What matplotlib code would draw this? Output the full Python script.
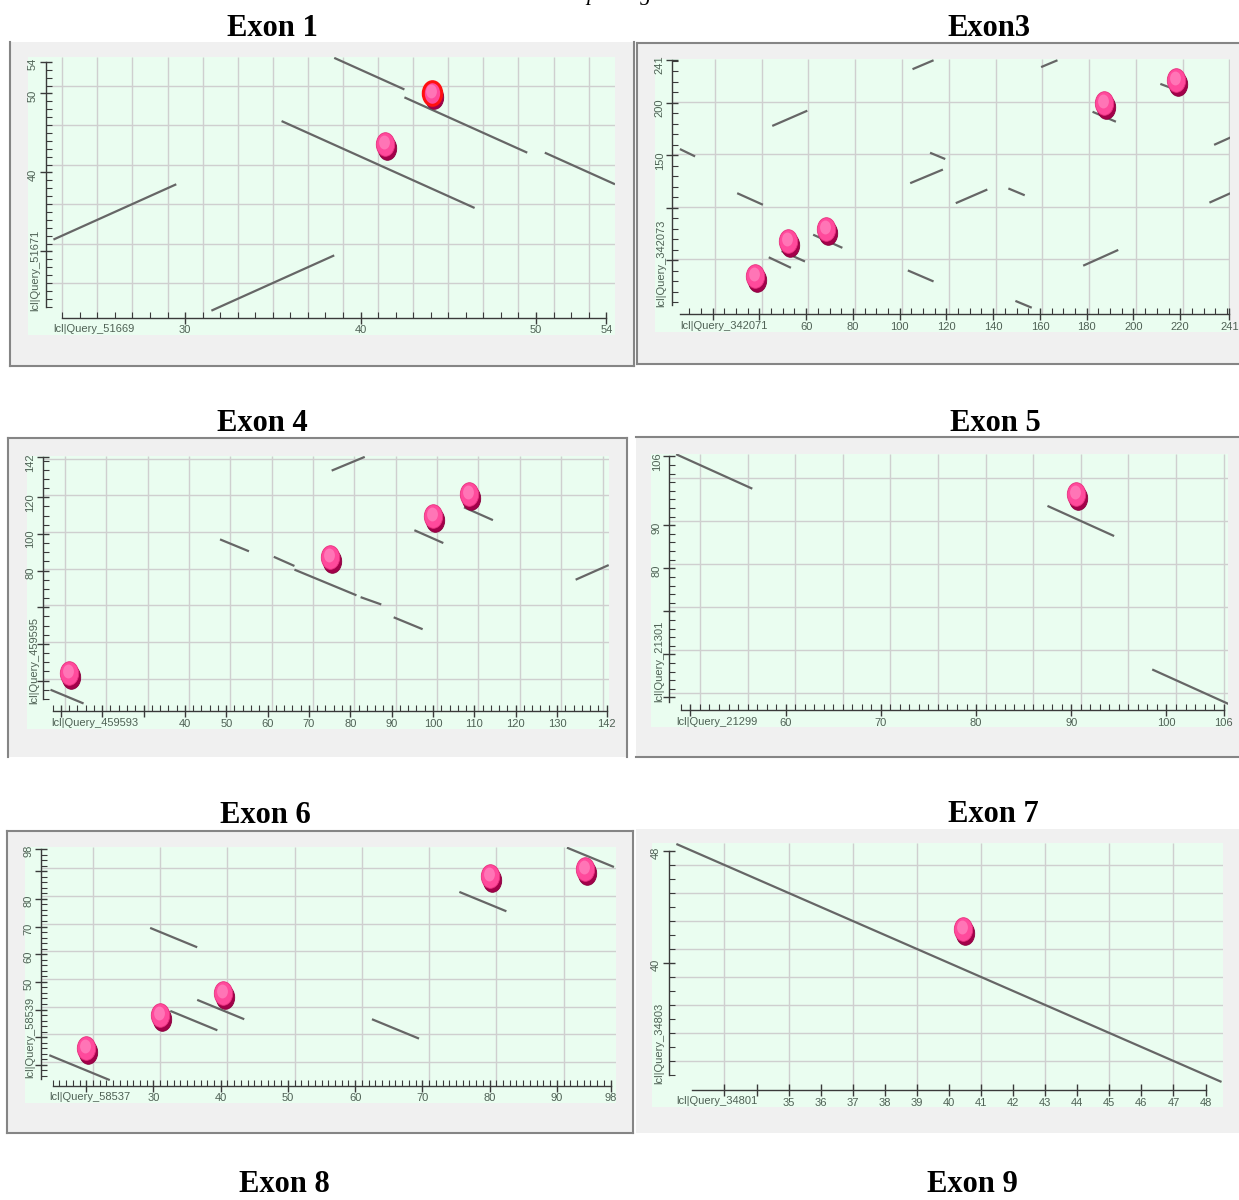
import matplotlib
matplotlib.use('Agg')
import matplotlib.pyplot as plt
import numpy as np
from matplotlib.path import Path
from matplotlib.transforms import Affine2D, offset_copy
from matplotlib.patches import Rectangle
from matplotlib.lines import Line2D

plt.rcParams['font.family'] = ['Liberation Sans', 'DejaVu Sans']

W, H = 1239, 1200

# ---------------- data ----------------
# segments are (x0, y0, x1, y1) in sequence positions
exon1_names = ("lcl|Query_51669", "lcl|Query_51671")
exon1_segments = [(22.5, 31.5, 29.5, 38.5), (31.5, 22.5, 38.5, 29.5),
                  (35.5, 46.5, 46.5, 35.5), (38.5, 54.5, 42.5, 50.5),
                  (42.5, 49.5, 49.5, 42.5), (50.5, 42.5, 54.5, 38.5)]
exon1_hits_x = [41.4, 44.1]
exon1_hits_y = [43.6, 50.1]
exon1_selected = [False, True]
exon1_xticks = [30, 40, 50, 54]
exon1_xticklabels = ['30', '40', '50', '54']
exon1_yticks = [30, 40, 50, 54]
exon1_yticklabels = ['', '40', '50', '54']

exon3_names = ("lcl|Query_342071", "lcl|Query_342073")
exon3_segments = [(6, 156, 12.5, 149), (30.5, 114, 41.5, 103),
                  (45.5, 178, 60.5, 192.5), (44, 53, 53.5, 43),
                  (49.5, 59, 59.5, 49), (63, 74.5, 75.5, 62),
                  (105.5, 232, 114.5, 240.5), (113, 152.5, 119.5, 146.5),
                  (104.5, 123.5, 118.5, 136.5), (103.5, 40.5, 114.5, 30),
                  (124, 104.5, 137.5, 117.5), (146.5, 118.5, 153.5, 112),
                  (149.5, 11.5, 156.5, 5), (160.5, 234, 167.5, 240.5),
                  (178.5, 45, 193.5, 60), (182.5, 191.5, 192.5, 182),
                  (211.5, 218, 217.5, 213), (234.5, 160, 241.5, 167),
                  (232.5, 105, 241.5, 114)]
exon3_hits_x = [38.1, 52.4, 68.6, 187.5, 218.1]
exon3_hits_y = [35.0, 68.7, 79.5, 199.7, 221.9]
exon3_selected = [False] * 5
exon3_xticks = [20, 40, 60, 80, 100, 120, 140, 160, 180, 200, 220, 241]
exon3_xticklabels = ['', '', '60', '80', '100', '120', '140', '160', '180',
                     '200', '220', '241']
exon3_yticks = [50, 100, 150, 200, 241]
exon3_yticklabels = ['', '', '150', '200', '241']

exon4_names = ("lcl|Query_459593", "lcl|Query_459595")
exon4_segments = [(7.5, 15, 15.5, 7.5), (48.5, 97, 55.5, 90.5),
                  (61.5, 87.5, 66.5, 82.5), (66.5, 80.5, 81.5, 66.5),
                  (82.5, 65.5, 87.5, 61.5), (90.5, 54.5, 97.5, 48),
                  (75.5, 134.5, 83.5, 142), (95.5, 102, 102.5, 95),
                  (107.5, 114.5, 114.5, 107.5), (134.5, 75, 142.5, 83)]
exon4_hits_x = [11.9, 75.0, 100.1, 108.6]
exon4_hits_y = [23.9, 87.5, 109.7, 122.0]
exon4_selected = [False] * 4
exon4_xticks = [10, 20, 30, 40, 50, 60, 70, 80, 90, 100, 110, 120, 130, 142]
exon4_xticklabels = ['', '', '', '40', '50', '60', '70', '80', '90', '100',
                     '110', '120', '130', '142']
exon4_yticks = [20, 40, 60, 80, 100, 120, 142]
exon4_yticklabels = ['', '', '', '80', '100', '120', '142']

exon5_names = ("lcl|Query_21299", "lcl|Query_21301")
exon5_segments = [(48.5, 106.5, 56.5, 98.5), (87.5, 94.5, 94.5, 87.5),
                  (98.5, 56.5, 106.5, 48.5)]
exon5_hits_x = [90.5]
exon5_hits_y = [97.3]
exon5_selected = [False]
exon5_xticks = [50, 60, 70, 80, 90, 100, 106]
exon5_xticklabels = ['', '60', '70', '80', '90', '100', '106']
exon5_yticks = [50, 60, 70, 80, 90, 106]
exon5_yticklabels = ['', '', '', '80', '90', '106']

exon6_names = ("lcl|Query_58537", "lcl|Query_58539")
exon6_segments = [(14.5, 23.5, 23.5, 14.5), (29.5, 69.5, 36.5, 62.5),
                  (32.5, 39.5, 39.5, 32.5), (36.5, 43.5, 43.5, 36.5),
                  (62.5, 36.5, 69.5, 29.5), (75.5, 82.5, 82.5, 75.5),
                  (91.5, 98.5, 98.5, 91.5)]
exon6_hits_x = [19.9, 31.0, 40.3, 80.1, 94.2]
exon6_hits_y = [26.2, 38.0, 46.1, 88.1, 90.9]
exon6_selected = [False] * 5
exon6_xticks = [20, 30, 40, 50, 60, 70, 80, 90, 98]
exon6_xticklabels = ['', '30', '40', '50', '60', '70', '80', '90', '98']
exon6_yticks = [20, 30, 40, 50, 60, 70, 80, 90, 98]
exon6_yticklabels = ['', '', '', '50', '60', '70', '80', '', '98']

exon7_names = ("lcl|Query_34801", "lcl|Query_34803")
exon7_segments = [(31.5, 48.5, 48.5, 31.5)]
exon7_hits_x = [40.43]
exon7_hits_y = [42.43]
exon7_selected = [False]
exon7_xticks = [33, 34, 35, 36, 37, 38, 39, 40, 41, 42, 43, 44, 45, 46, 47, 48]
exon7_xticklabels = ['', '', '35', '36', '37', '38', '39', '40', '41', '42',
                     '43', '44', '45', '46', '47', '48']
exon7_yticks = [40, 48]
exon7_yticklabels = ['40', '48']

# ---------------- layout (pixels of the 1239x1200 page) ----------------
panels = [
    dict(title='Exon 1', title_at=(272, 36), box=(28, 57, 615, 335),
         xlim=(21.05, 54.5), ylim=(19.42, 54.61),
         yspine=(22.06, 23, 54), xspine=(21.63, 23, 54),
         grid=((23, 54, 2), (26, 54, 5)), minor=((23, 54, 1), (23, 54, 1)),
         xlab_at=(53, 329), ylab_at=(35.5, 311),
         names=exon1_names, segs=exon1_segments, hx=exon1_hits_x, hy=exon1_hits_y,
         sel=exon1_selected, xt=exon1_xticks, xtl=exon1_xticklabels,
         yt=exon1_yticks, ytl=exon1_yticklabels),
    dict(title='Exon3', title_at=(989, 36), box=(655, 59, 1230, 332),
         xlim=(-4.65, 241.3), ylim=(-18.1, 241.7),
         yspine=(2.75, 8, 241), xspine=(-1.3, 6, 241),
         grid=((21, 241, 20), (51, 241, 50)), minor=((10, 240, 5), (10, 240, 10)),
         xlab_at=(680, 326), ylab_at=(661, 307),
         names=exon3_names, segs=exon3_segments, hx=exon3_hits_x, hy=exon3_hits_y,
         sel=exon3_selected, xt=exon3_xticks, xtl=exon3_xticklabels,
         yt=exon3_yticks, ytl=exon3_yticklabels),
    dict(title='Exon 4', title_at=(262, 431), box=(26.5, 455.5, 609, 729),
         xlim=(1.70, 142.57), ylim=(-6.42, 142.75),
         yspine=(5.65, 10, 142), xspine=(3.3, 8, 142),
         grid=((11, 142, 10), (21, 142, 20)), minor=((8, 142, 2), (10, 140, 5)),
         xlab_at=(51, 722.7), ylab_at=(34.7, 704),
         names=exon4_names, segs=exon4_segments, hx=exon4_hits_x, hy=exon4_hits_y,
         sel=exon4_selected, xt=exon4_xticks, xtl=exon4_xticklabels,
         yt=exon4_yticks, ytl=exon4_yticklabels),
    dict(title='Exon 5', title_at=(995, 431), box=(651, 454, 1228, 727),
         xlim=(45.86, 106.46), ylim=(43.13, 106.56),
         yspine=(47.8, 49, 106), xspine=(47.0, 49, 106),
         grid=((51, 106, 5), (51, 106, 10)), minor=((49, 106, 1), (50, 106, 2)),
         xlab_at=(676.4, 721.7), ylab_at=(659, 702.5),
         names=exon5_names, segs=exon5_segments, hx=exon5_hits_x, hy=exon5_hits_y,
         sel=exon5_selected, xt=exon5_xticks, xtl=exon5_xticklabels,
         yt=exon5_yticks, ytl=exon5_yticklabels),
    dict(title='Exon 6', title_at=(265, 822.8), box=(24.5, 847, 615.5, 1103),
         xlim=(10.81, 98.73), ylim=(6.23, 98.73),
         yspine=(13.24, 15, 98), xspine=(12.5, 15, 98),
         grid=((21, 98, 10), (21, 98, 10)), minor=((15, 98, 1), (16, 98, 2)),
         xlab_at=(49, 1096.7), ylab_at=(30.6, 1078),
         names=exon6_names, segs=exon6_segments, hx=exon6_hits_x, hy=exon6_hits_y,
         sel=exon6_selected, xt=exon6_xticks, xtl=exon6_xticklabels,
         yt=exon6_yticks, ytl=exon6_yticklabels),
    dict(title='Exon 7', title_at=(993, 822.4), box=(652, 843, 1222.5, 1107),
         xlim=(30.74, 48.53), ylim=(29.71, 48.57),
         yspine=(31.26, 32, 48), xspine=(30.93, 32, 48),
         grid=((33, 48, 2), (33, 48, 2)), minor=(None, (32, 48, 1)),
         xlab_at=(676.4, 1101), ylab_at=(659, 1083.6),
         names=exon7_names, segs=exon7_segments, hx=exon7_hits_x, hy=exon7_hits_y,
         sel=exon7_selected, xt=exon7_xticks, xtl=exon7_xticklabels,
         yt=exon7_yticks, ytl=exon7_yticklabels),
]

# outer grey window frames: background box and the visible border edges
frames = [
    ((10, 42, 634, 366), [(10, 42, 10, 366), (10, 366, 634, 366), (634, 42, 634, 366)]),
    ((637, 43, 1245, 364), [(637, 43, 1245, 43), (637, 43, 637, 364), (637, 364, 1245, 364)]),
    ((8, 438, 627, 757), [(8, 438, 627, 438), (8, 438, 8, 757), (627, 438, 627, 757)]),
    ((636, 437, 1245, 757), [(636, 437, 1245, 437), (636, 757, 1245, 757)]),
    ((7, 831, 633, 1133), [(7, 831, 633, 831), (7, 831, 7, 1133),
                           (633, 831, 633, 1133), (7, 1133, 633, 1133)]),
    ((636, 829, 1245, 1133), []),
]

lower_titles = [('Exon 8', 284, 1192), ('Exon 9', 972, 1192)]

GREEN = '#eafdf0'
GRID = '#cfcfcf'
SEG = '#666666'
AXC = '#3a3a3a'
LABC = '#4f6155'


def fx(px):
    return px / W


def fy(py):
    return 1 - py / H


fig = plt.figure(figsize=(W / 100, H / 100), dpi=100)
fig.patch.set_facecolor('white')

for (x0, y0, x1, y1), edges in frames:
    fig.add_artist(Rectangle((fx(x0), fy(y1)), (x1 - x0) / W, (y1 - y0) / H,
                             transform=fig.transFigure, facecolor='#f0f0f0',
                             edgecolor='none', zorder=-5))
    for ex0, ey0, ex1, ey1 in edges:
        fig.add_artist(Line2D([fx(ex0), fx(ex1)], [fy(ey0), fy(ey1)],
                              transform=fig.transFigure, color='#858585',
                              lw=1.5, zorder=-4))

ellipse = Path.unit_circle().transformed(Affine2D().scale(0.78, 1.0))

for p in panels:
    gx0, gy0, gx1, gy1 = p['box']
    ax = fig.add_axes([fx(gx0), fy(gy1), (gx1 - gx0) / W, (gy1 - gy0) / H])
    ax.set_facecolor(GREEN)
    ax.set_xlim(*p['xlim'])
    ax.set_ylim(*p['ylim'])

    ysx, ylo, yhi = p['yspine']
    xsy, xlo, xhi = p['xspine']
    for s in ('top', 'right'):
        ax.spines[s].set_visible(False)
    ax.spines['left'].set_position(('data', ysx))
    ax.spines['left'].set_bounds(ylo, yhi)
    ax.spines['bottom'].set_position(('data', xsy))
    ax.spines['bottom'].set_bounds(xlo, xhi)
    for s in ('left', 'bottom'):
        ax.spines[s].set_color(AXC)
        ax.spines[s].set_linewidth(1.0)

    # grid
    (gxa, gxb, gxs), (gya, gyb, gys) = p['grid']
    ax.vlines(np.arange(gxa, gxb + 0.01, gxs), xsy, p['ylim'][1],
              colors=GRID, lw=1.0, zorder=1)
    ax.hlines(np.arange(gya, gyb + 0.01, gys), ysx, p['xlim'][1],
              colors=GRID, lw=1.0, zorder=1)

    # ticks
    ax.set_xticks(p['xt'])
    ax.set_xticklabels(p['xtl'])
    ax.set_yticks(p['yt'])
    ax.set_yticklabels(p['ytl'])
    mx, my = p['minor']
    if mx is not None:
        ax.set_xticks(np.arange(mx[0], mx[1] + 0.01, mx[2]), minor=True)
    if my is not None:
        ax.set_yticks(np.arange(my[0], my[1] + 0.01, my[2]), minor=True)
    ax.tick_params(which='major', direction='inout', length=9, width=1.0,
                   color=AXC, labelcolor=LABC, labelsize=8, pad=1)
    ax.tick_params(which='minor', direction='in', length=4, width=0.8, color=AXC)
    ax.tick_params(axis='y', labelrotation=90)

    # axis names
    def to_axes(px, py):
        return (px - gx0) / (gx1 - gx0), (gy1 - py) / (gy1 - gy0)

    xnx, xny = to_axes(*p['xlab_at'])
    ax.text(xnx, xny, p['names'][0], transform=ax.transAxes, ha='left',
            va='center', fontsize=8, color=LABC)
    ynx, yny = to_axes(*p['ylab_at'])
    ax.text(ynx, yny, p['names'][1], transform=ax.transAxes, ha='left',
            va='center', rotation=90, rotation_mode='anchor', fontsize=8,
            color=LABC)

    # alignment segments
    for sx0, sy0, sx1, sy1 in p['segs']:
        ax.plot([sx0, sx1], [sy0, sy1], color=SEG, lw=1.6,
                solid_capstyle='butt', zorder=3)

    # hit markers: dark base, pink top, light highlight
    shadow = offset_copy(ax.transData, fig=fig, x=2, y=-4, units='dots')
    shine = offset_copy(ax.transData, fig=fig, x=-1, y=2, units='dots')
    ax.plot(p['hx'], p['hy'], ls='none', marker=ellipse, ms=17,
            mfc='#a3004a', mec='#8a003d', mew=0.6, transform=shadow, zorder=4)
    for hx, hy, sel in zip(p['hx'], p['hy'], p['sel']):
        ax.plot([hx], [hy], ls='none', marker=ellipse, ms=17, mfc='#ff4a9c',
                mec='#ff1010' if sel else '#e8307e', mew=2.2 if sel else 0.6,
                zorder=5)
    ax.plot(p['hx'], p['hy'], ls='none', marker=ellipse, ms=10,
            mfc='#ff93c8', mec='none', alpha=0.6, transform=shine, zorder=6)

    tx, tb = p['title_at']
    fig.text(fx(tx), fy(tb), p['title'], ha='center', va='baseline',
             family='Liberation Serif', weight='bold', fontsize=22)

for t, tx, tb in lower_titles:
    fig.text(fx(tx), fy(tb), t, ha='center', va='baseline',
             family='Liberation Serif', weight='bold', fontsize=22)

# caption line of the page above, cut off at the top edge as in the source
fig.text(fx(586), fy(0), 'pairing', ha='left', va='baseline',
         family='Liberation Serif', style='italic', fontsize=16)

fig.savefig('out.png', dpi=100)
